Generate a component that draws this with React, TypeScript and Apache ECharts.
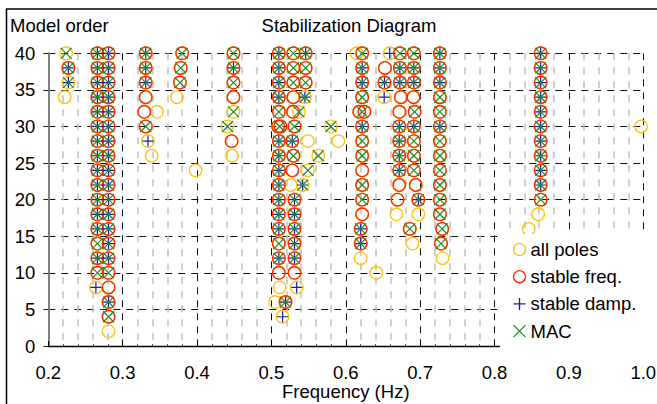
import React, { useEffect, useRef } from 'react';
import * as echarts from 'echarts';

type Pt = [number, number];

const chartTitle = 'Stabilization Diagram';
const yTitle = 'Model order';
const xTitle = 'Frequency (Hz)';
const seriesNames = ['all poles', 'stable freq.', 'stable damp.', 'MAC'];

// poles that are not covered by a stable-frequency circle
const otherPoles: Pt[] = [
  [0.224, 40], [0.227, 36], [0.222, 34], [0.264, 8], [0.281, 2],
  [0.346, 32], [0.334, 28], [0.339, 26], [0.373, 34], [0.398, 24],
  [0.449, 32], [0.441, 30], [0.447, 26],
  [0.511, 8], [0.505, 6], [0.515, 4],
  [0.537, 32], [0.549, 28], [0.563, 26], [0.549, 24], [0.526, 22], [0.542, 22], [0.534, 8],
  [0.545, 34], [0.58, 30], [0.59, 28],
  [0.6145, 40], [0.62, 12], [0.641, 10], [0.659, 40], [0.6516, 34],
  [0.668, 18], [0.6975, 18], [0.6898, 14], [0.73, 12],
  [0.8586, 18], [0.846, 16], [0.997, 30],
];

const stableFreq: Pt[] = [
  [0.227, 38],
  [0.266, 10], [0.266, 12], [0.266, 14], [0.266, 16], [0.266, 18], [0.266, 20], [0.266, 22], [0.266, 24],
  [0.266, 26], [0.266, 28], [0.266, 30], [0.266, 32], [0.266, 34], [0.266, 36], [0.266, 38], [0.266, 40],
  [0.281, 4], [0.281, 6], [0.281, 8], [0.281, 10], [0.281, 12], [0.281, 14], [0.281, 16], [0.281, 18],
  [0.281, 20], [0.281, 22], [0.281, 24], [0.281, 26], [0.281, 28], [0.281, 30], [0.281, 32], [0.281, 34],
  [0.281, 36], [0.281, 38], [0.281, 40],
  [0.331, 40], [0.331, 38], [0.331, 36], [0.331, 34], [0.329, 32], [0.331, 30],
  [0.38, 40], [0.378, 38], [0.377, 36],
  [0.449, 40], [0.449, 38], [0.449, 36], [0.449, 34], [0.4465, 28],
  [0.51, 10], [0.51, 12], [0.51, 14], [0.51, 16], [0.51, 18], [0.51, 20], [0.51, 22], [0.51, 24],
  [0.51, 26], [0.51, 28], [0.509, 30], [0.512, 30], [0.51, 32], [0.51, 34], [0.51, 36], [0.51, 38], [0.51, 40],
  [0.5295, 40], [0.5295, 38], [0.5295, 36], [0.5295, 34], [0.529, 32], [0.531, 30], [0.528, 28],
  [0.5295, 26], [0.528, 24], [0.531, 20], [0.531, 18], [0.531, 16], [0.531, 14], [0.531, 12], [0.531, 10],
  [0.519, 6],
  [0.546, 40], [0.546, 38], [0.546, 36],
  [0.622, 40], [0.622, 38], [0.622, 36], [0.622, 34], [0.618, 32], [0.625, 32], [0.622, 30], [0.622, 28],
  [0.622, 26], [0.622, 24], [0.622, 22], [0.622, 20], [0.622, 18], [0.62, 16], [0.62, 14],
  [0.6526, 38], [0.652, 36],
  [0.6727, 40], [0.6727, 38], [0.6727, 36], [0.674, 34], [0.672, 32], [0.6718, 30], [0.6718, 28],
  [0.6718, 26], [0.6718, 24], [0.6718, 22], [0.6696, 20],
  [0.6915, 40], [0.6915, 38], [0.6915, 36], [0.691, 34], [0.6925, 32], [0.6915, 30], [0.6915, 28],
  [0.6915, 26], [0.6915, 24], [0.694, 22], [0.6975, 20], [0.686, 16],
  [0.7265, 40], [0.7265, 38], [0.7265, 36], [0.7265, 34], [0.7265, 32], [0.7265, 30], [0.7265, 28],
  [0.7265, 26], [0.7265, 24], [0.7265, 22], [0.7265, 20], [0.7265, 18], [0.7296, 16], [0.728, 14],
  [0.862, 20], [0.862, 22], [0.862, 24], [0.862, 26], [0.862, 28], [0.862, 30], [0.862, 32], [0.862, 34],
  [0.862, 36], [0.862, 38], [0.862, 40],
];

const stableDamp: Pt[] = [
  [0.227, 38], [0.227, 36],
  [0.264, 8], [0.266, 12], [0.266, 16], [0.266, 18], [0.266, 20], [0.266, 22], [0.266, 24], [0.266, 26],
  [0.266, 28], [0.266, 30], [0.266, 32], [0.266, 34], [0.266, 36], [0.266, 38], [0.266, 40],
  [0.281, 6], [0.281, 12], [0.281, 14], [0.281, 16], [0.281, 18], [0.281, 20], [0.281, 22], [0.281, 24],
  [0.281, 26], [0.281, 28], [0.281, 30], [0.281, 32], [0.281, 34], [0.281, 36], [0.281, 38], [0.281, 40],
  [0.331, 40], [0.331, 38], [0.331, 36], [0.334, 28],
  [0.449, 38],
  [0.515, 4], [0.51, 12], [0.51, 16], [0.51, 18], [0.51, 20], [0.51, 22], [0.51, 24], [0.51, 26],
  [0.51, 28], [0.51, 34], [0.51, 36], [0.51, 38], [0.51, 40],
  [0.519, 6], [0.534, 8], [0.531, 12], [0.531, 14], [0.531, 16], [0.531, 18], [0.531, 20], [0.542, 22],
  [0.528, 28],
  [0.546, 40], [0.545, 34],
  [0.622, 38], [0.622, 36], [0.622, 30], [0.62, 16], [0.62, 14],
  [0.659, 40], [0.652, 36], [0.6516, 34],
  [0.6727, 38], [0.6727, 36], [0.6718, 30], [0.6718, 28], [0.6718, 26], [0.6718, 24],
  [0.6915, 38], [0.6915, 36], [0.6915, 30], [0.6975, 20],
  [0.7265, 40], [0.7265, 38], [0.7265, 36], [0.7265, 30],
  [0.862, 22], [0.862, 24], [0.862, 26], [0.862, 28], [0.862, 30], [0.862, 32], [0.862, 34], [0.862, 36],
  [0.862, 38], [0.862, 40],
];

const macPoints: Pt[] = [
  [0.224, 40], [0.227, 38], [0.227, 36],
  [0.266, 10], [0.266, 12], [0.266, 14], [0.266, 16], [0.266, 18], [0.266, 20], [0.266, 22], [0.266, 24],
  [0.266, 26], [0.266, 28], [0.266, 30], [0.266, 32], [0.266, 34], [0.266, 36], [0.266, 38], [0.266, 40],
  [0.281, 4], [0.281, 6], [0.281, 10], [0.281, 12], [0.281, 14], [0.281, 16], [0.281, 18], [0.281, 20],
  [0.281, 22], [0.281, 24], [0.281, 26], [0.281, 28], [0.281, 30], [0.281, 32], [0.281, 34], [0.281, 36],
  [0.281, 38], [0.281, 40],
  [0.331, 40], [0.331, 38], [0.331, 36], [0.331, 30],
  [0.38, 40], [0.378, 38], [0.377, 36],
  [0.449, 40], [0.449, 38], [0.449, 36], [0.449, 32], [0.441, 30],
  [0.51, 12], [0.51, 14], [0.51, 16], [0.51, 18], [0.51, 20], [0.51, 22], [0.51, 24], [0.51, 26],
  [0.51, 28], [0.511, 30], [0.51, 32], [0.51, 34], [0.51, 36], [0.51, 38], [0.51, 40],
  [0.5295, 40], [0.5295, 38], [0.5295, 36], [0.537, 32], [0.531, 30], [0.528, 28], [0.5295, 26],
  [0.563, 26], [0.549, 24], [0.542, 22], [0.531, 20], [0.531, 18], [0.531, 16], [0.531, 14], [0.531, 12],
  [0.519, 6],
  [0.546, 40], [0.546, 38], [0.546, 36], [0.545, 34], [0.58, 30],
  [0.622, 40], [0.622, 38], [0.622, 36], [0.622, 34], [0.622, 32], [0.622, 30], [0.622, 28], [0.622, 26],
  [0.622, 22], [0.622, 20], [0.62, 16], [0.62, 14],
  [0.652, 36],
  [0.6727, 40], [0.6727, 38], [0.6727, 36], [0.6718, 30], [0.6718, 28], [0.6718, 26], [0.6718, 24],
  [0.6915, 40], [0.6915, 38], [0.6915, 36], [0.6925, 32], [0.6915, 30], [0.6915, 28], [0.6915, 26],
  [0.6915, 24], [0.6975, 20], [0.686, 16],
  [0.7265, 40], [0.7265, 38], [0.7265, 36], [0.7265, 34], [0.7265, 32], [0.7265, 30], [0.7265, 28],
  [0.7265, 26], [0.7265, 24], [0.7265, 22], [0.7265, 20], [0.7265, 18], [0.7296, 16], [0.728, 14],
  [0.862, 20], [0.862, 22], [0.862, 24], [0.862, 26], [0.862, 28], [0.862, 30], [0.862, 32], [0.862, 34],
  [0.862, 36], [0.862, 38], [0.862, 40],
];

const allPoles: Pt[] = otherPoles.concat(stableFreq);

const YELLOW = '#ffc20e';
const RED = '#ff2a00';
const BLUE = '#1c1ca0';
const GREEN = '#1f8c1f';
const FONT = '"Liberation Sans", Arial, sans-serif';
const FS = 18.5;
const PLUS = 'path://M5 0L5 10M0 5L10 5';
const CROSS = 'path://M0 0L10 10M10 0L0 10';

export default function App() {
  const ref = useRef<HTMLDivElement>(null);
  useEffect(() => {
    if (!ref.current) return;
    const chart = echarts.init(ref.current, null, { renderer: 'svg' });
    const mk = (name: string, data: Pt[], symbol: string, color: string, size: number, bw: number, z: number) => ({
      name,
      type: 'scatter',
      data,
      symbol,
      symbolSize: size,
      z,
      itemStyle: { color: 'none', borderColor: color, borderWidth: bw, opacity: 1 },
      emphasis: { disabled: true },
    });
    chart.setOption({
      animation: false,
      backgroundColor: '#fff',
      textStyle: { fontFamily: FONT },
      grid: { left: 48.3, right: 13.7, top: 53.3, bottom: 58, containLabel: false, outerBoundsMode: 'none' },
      xAxis: {
        type: 'value',
        min: 0.2,
        max: 1.0,
        interval: 0.1,
        name: xTitle,
        nameLocation: 'middle',
        nameGap: 36,
        nameMoveOverlap: false,
        nameTextStyle: { fontSize: FS, color: '#000', fontFamily: FONT },
        axisLine: { onZero: false, lineStyle: { color: '#000', width: 1.3 } },
        axisTick: { inside: true, length: 5, lineStyle: { color: '#000', width: 1 } },
        minorTick: { show: true, splitNumber: 5, length: 2, lineStyle: { color: '#555' } },
        axisLabel: { fontSize: FS, color: '#000', margin: 17, fontFamily: FONT, formatter: (v: number) => v.toFixed(1) },
        splitLine: { show: true, lineStyle: { color: '#111', type: [7, 6], width: 1 } },
        minorSplitLine: { show: true, lineStyle: { color: '#c0c0c0', type: [7, 7], width: 1.5 } },
      },
      yAxis: {
        type: 'value',
        min: 0,
        max: 40,
        interval: 5,
        axisLine: { show: true, lineStyle: { color: '#808080', width: 2 } },
        axisTick: { show: true, inside: false, length: 5, lineStyle: { color: '#222' } },
        axisLabel: { fontSize: FS, color: '#000', margin: 13, fontFamily: FONT },
        splitLine: { show: true, lineStyle: { color: '#111', type: [7, 6], width: 1 } },
      },
      legend: {
        orient: 'vertical',
        left: 500,
        top: 234,
        backgroundColor: '#fff',
        padding: [6, 14, 8, 11],
        itemWidth: 12,
        itemHeight: 12,
        itemGap: 8.2,
        textStyle: { fontSize: FS, color: '#000', fontFamily: FONT },
        data: [
          { name: seriesNames[0], icon: 'circle', itemStyle: { color: 'none', borderColor: YELLOW, borderWidth: 1.3 } },
          { name: seriesNames[1], icon: 'circle', itemStyle: { color: 'none', borderColor: RED, borderWidth: 1.3 } },
          { name: seriesNames[2], icon: PLUS, itemStyle: { color: 'none', borderColor: BLUE, borderWidth: 1.3 } },
          { name: seriesNames[3], icon: CROSS, itemStyle: { color: 'none', borderColor: GREEN, borderWidth: 1.3 } },
        ],
      },
      graphic: [
        { type: 'text', left: 10, top: 16, style: { text: yTitle, fontSize: FS, fill: '#000', fontFamily: FONT } },
        { type: 'text', x: 349, y: 25, style: { text: chartTitle, fontSize: FS, fill: '#000', fontFamily: FONT, textAlign: 'center', textVerticalAlign: 'middle' } },
        { type: 'rect', shape: { x: 6.5, y: 9, width: 700, height: 450 }, style: { fill: 'none', stroke: '#000', lineWidth: 1.5 }, silent: true },
      ],
      series: [
        mk(seriesNames[0], allPoles, 'circle', YELLOW, 12.5, 1.3, 2),
        mk(seriesNames[1], stableFreq, 'circle', RED, 12.5, 1.3, 3),
        mk(seriesNames[2], stableDamp, PLUS, BLUE, 11, 1.2, 4),
        mk(seriesNames[3], macPoints, CROSS, GREEN, 11, 1.2, 5),
      ],
    });
    return () => chart.dispose();
  }, []);
  return <div ref={ref} style={{ position: 'fixed', left: 0, top: 0, width: 657, height: 404 }} />;
}
